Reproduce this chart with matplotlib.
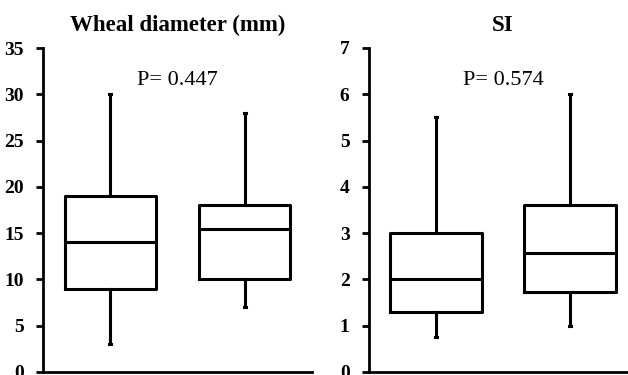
import matplotlib
matplotlib.use("Agg")
import matplotlib.pyplot as plt

plt.rcParams['font.family'] = ['Liberation Serif', 'DejaVu Serif']

# box statistics
panels = ['Wheal diameter (mm)', 'SI']
p_values = ['P= 0.447', 'P= 0.574']
y_max = [35, 7]
y_step = [5, 1]

whislo = [[3, 7], [0.75, 1.0]]
q1 = [[9, 10], [1.3, 1.72]]
med = [[14, 15.5], [2.0, 2.57]]
q3 = [[19, 18], [3.0, 3.6]]
whishi = [[30, 28], [5.5, 6.0]]

W, H = 628, 375
fig = plt.figure(figsize=(W / 100, H / 100), dpi=100)

axes_px = [(43, 312), (369, 637)]
top_px, bottom_px = 48, 372

for i, title in enumerate(panels):
    x0, x1 = axes_px[i]
    ax = fig.add_axes([x0 / W, 1 - bottom_px / H, (x1 - x0) / W, (bottom_px - top_px) / H])

    stats = []
    for j in range(2):
        stats.append(dict(
            whislo=whislo[i][j], q1=q1[i][j], med=med[i][j],
            q3=q3[i][j], whishi=whishi[i][j], fliers=[]
        ))

    lw = 2.2
    ax.bxp(
        stats,
        positions=[1, 2],
        widths=0.68,
        showfliers=False,
        capwidths=0.015,
        boxprops=dict(color='black', linewidth=lw),
        medianprops=dict(color='black', linewidth=lw),
        whiskerprops=dict(color='black', linewidth=lw),
        capprops=dict(color='black', linewidth=lw),
    )

    ax.set_xlim(0.5, 2.5)
    ax.set_ylim(0, y_max[i])
    ax.set_yticks([k * y_step[i] for k in range(8)])
    ax.set_xticks([])

    ax.spines['top'].set_visible(False)
    ax.spines['right'].set_visible(False)
    ax.spines['left'].set_linewidth(2)
    ax.spines['bottom'].set_linewidth(2)

    ax.tick_params(axis='y', direction='out', length=5, width=2, pad=9, labelsize=14)
    for lab in ax.get_yticklabels():
        lab.set_fontweight('bold')

    ax.set_title(title, fontsize=16.5, fontweight='bold', pad=12)

    ax.text(1.5, y_max[i] * 0.9, p_values[i], ha='center', va='center', fontsize=16)

fig.savefig('out.png', dpi=100)
